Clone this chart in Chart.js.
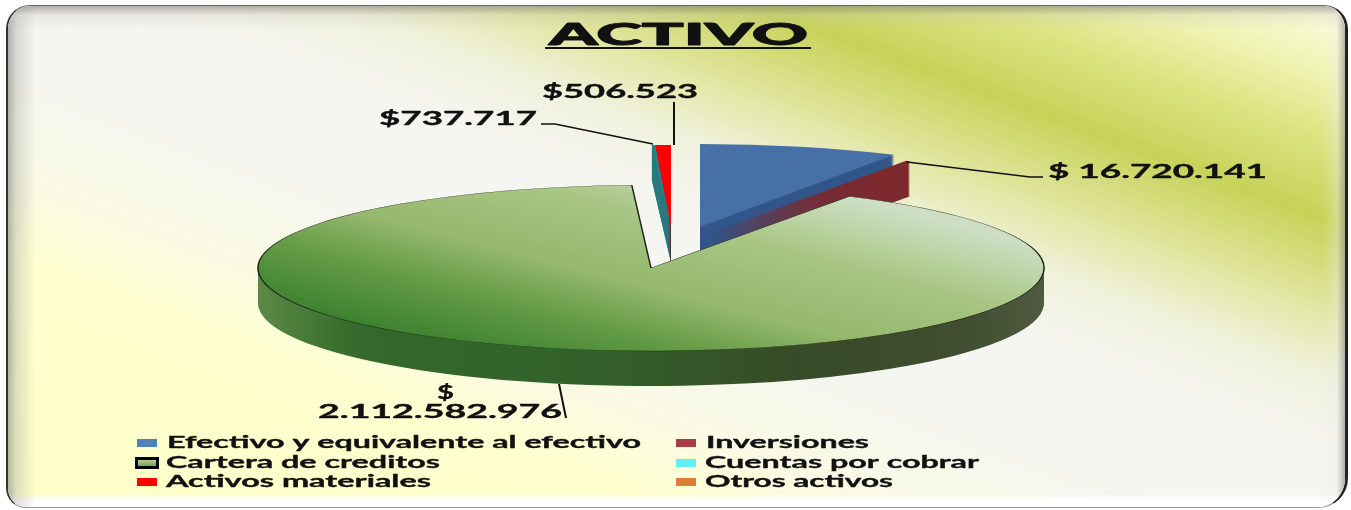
<!DOCTYPE html>
<html><head><meta charset="utf-8">
<style>
html,body{margin:0;padding:0;background:#fff;width:1351px;height:510px;overflow:hidden}
#frame{position:absolute;left:6px;top:5px;width:1342px;height:503px;box-sizing:border-box;border-radius:24px 24px 30px 20px;
 border:2px solid #4d4d4d;border-top:1.5px solid #666;border-left-color:#333;border-right:3px solid #222;border-bottom:1.5px solid #999;overflow:hidden;background:#f5f5f4}
#bg{position:absolute;inset:0;background:
 linear-gradient(to bottom,rgba(130,130,120,.6),rgba(190,190,180,.25) 9px,rgba(200,200,190,0) 24px),
 linear-gradient(to right,rgba(120,120,115,.55),rgba(170,170,165,.4) 8px,rgba(220,220,210,0) 28px),
 linear-gradient(to left,rgba(150,150,145,.7),rgba(235,235,230,.35) 8px,rgba(235,235,230,0) 22px),
 linear-gradient(to top,#fff 7px,rgba(255,255,255,0) 13px),
 linear-gradient(to top right,
  rgb(255,255,200) 0%,rgb(255,255,208) 25%,rgb(250,250,228) 33%,rgb(245,245,242) 45%,rgb(245,245,240) 55%,
  rgb(240,242,222) 62%,rgb(228,232,170) 68%,rgb(200,210,88) 78%,rgb(220,228,130) 86%,rgb(238,242,175) 92%,rgb(255,255,230) 100%)}
canvas{position:absolute;left:0;top:0}
</style></head>
<body>
<div id="frame"><div id="bg"></div></div>
<canvas id="c" width="1351" height="510"></canvas>
<script src="https://cdn.jsdelivr.net/npm/chart.js@4"></script>
<script>
const chartTitle = 'ACTIVO';
const categories = ['Efectivo y equivalente al efectivo','Inversiones','Cartera de creditos','Cuentas por cobrar','Activos materiales','Otros activos'];
const sliceShares = [8.22, 0.19, 90.81, 0.14, 0.64, 0];
const printedValues = ['$ 16.720.141', '$', '2.112.582.976', '$737.717', '$506.523'];
const faceColors = ['#4670a6','#7d2a2e','#8fb56d','#2f7f80','#ff0000','#dc7d3c'];
const wallColors = ['#33568a','#7d2a2e','#3a6a2a','#2a7a7e','#7a1010','#a05a28'];
const legendColors = ['#4f81bd','#aa3c41','#8fb56d','#64f0fa','#ff0000','#dc7d3c'];

const PIE_X = 651, PIE_Y = 268, PIE_R = 393, SQUASH = 83/393, DEPTH = 35;
const sliceShift = [[49,-41],[61,-35],[0,0],[20,-40],[20,-40],[20,-40]];
const drawOrder = [0,1,4,5,3,2];
const FONT = 'Lato, "Open Sans", sans-serif';

function project(ctx, arc, i, extra){
  ctx.translate(PIE_X + sliceShift[i][0], PIE_Y + sliceShift[i][1] + extra);
  ctx.scale(1, SQUASH);
  ctx.translate(-arc.x, -arc.y);
}
function paint(ctx, arc, i, extra, fill){
  const saved = arc.options;
  arc.options = Object.assign({}, saved, {backgroundColor: fill});
  ctx.save(); project(ctx, arc, i, extra); arc.draw(ctx); ctx.restore();
  arc.options = saved;
}
function stretched(ctx, text, x0, x1, baseline, size, weight, halo){
  ctx.save();
  ctx.font = (weight || 'bold') + ' ' + size + 'px ' + FONT;
  ctx.fillStyle = '#111';
  ctx.strokeStyle = '#111';
  ctx.lineWidth = halo === undefined ? 0.35 : halo;
  ctx.lineJoin = 'round';
  ctx.textBaseline = 'alphabetic'; ctx.textAlign = 'left';
  const w = ctx.measureText(text).width;
  ctx.translate(x0, baseline); ctx.scale((x1 - x0) / w, 1);
  ctx.fillText(text, 0, 0);
  if (ctx.lineWidth > 0) ctx.strokeText(text, 0, 0);
  ctx.restore();
}
function polyline(ctx, pts, w){
  ctx.save(); ctx.strokeStyle = '#111'; ctx.lineWidth = w; ctx.beginPath();
  pts.forEach((p,n)=> n ? ctx.lineTo(p[0],p[1]) : ctx.moveTo(p[0],p[1]));
  ctx.stroke(); ctx.restore();
}
const pie3d = {
  id:'pie3d',
  beforeDatasetsDraw(chart){
    const ctx = chart.ctx, arcs = chart.getDatasetMeta(0).data;
    drawOrder.forEach(i=>{
      const arc = arcs[i];
      if (!arc || arc.circumference === 0) return;
      let wall = wallColors[i], face = faceColors[i];
      if (i === 2){
        const g = ctx.createLinearGradient(arc.x - PIE_R, 0, arc.x + PIE_R, 0);
        g.addColorStop(0,'#5c8a45'); g.addColorStop(.05,'#4a7d3a'); g.addColorStop(.13,'#33692a'); g.addColorStop(.4,'#32622a');
        g.addColorStop(.68,'#364c28'); g.addColorStop(.9,'#414d30'); g.addColorStop(1,'#4f5a40');
        wall = g;
        const x0 = arc.x - PIE_R + 12, y0 = arc.y + 32/SQUASH;
        const f = ctx.createLinearGradient(x0, y0, x0 + 584, y0 - 479);
        f.addColorStop(0,'rgb(62,130,48)');
        f.addColorStop(.234,'rgb(100,155,70)');
        f.addColorStop(.434,'rgb(148,184,108)');
        f.addColorStop(.725,'rgb(168,197,132)');
        f.addColorStop(.85,'rgb(185,210,160)');
        f.addColorStop(1,'rgb(205,222,195)');
        face = f;
      }
      for (let d = DEPTH; d > 0; d -= 1) {
        const saved = arc.options;
        arc.options = Object.assign({}, saved, {borderWidth:0});
        paint(ctx, arc, i, d, wall);
        arc.options = saved;
      }
      paint(ctx, arc, i, 0, face);
    });
    return false;
  },
  afterDraw(chart){
    const ctx = chart.ctx;
    stretched(ctx, chartTitle, 549, 808, 45, 31, '900', 0);
    ctx.fillStyle = '#111'; ctx.fillRect(545, 47, 266, 2);
    polyline(ctx, [[674,102],[674,145]], 2);
    polyline(ctx, [[541,124],[555,124],[653,144]], 1.5);
    polyline(ctx, [[907,162],[1030,177],[1043,177]], 1.5);
    polyline(ctx, [[559,384],[566,418]], 2);
    stretched(ctx, printedValues[0], 1048, 1267, 178, 18);
    stretched(ctx, printedValues[1], 437, 454, 399, 19);
    stretched(ctx, printedValues[2], 318, 562, 418, 18);
    stretched(ctx, printedValues[3], 379, 537, 125, 18);
    stretched(ctx, printedValues[4], 542, 698, 98, 18);
    const rowsY = [447, 467, 486];
    const spans = [[167,641],[706,869],[166,440],[705,979],[166,431],[705,893]];
    const swatchX = [137,676];
    categories.forEach((name,i)=>{
      const col = i % 2, row = (i - col) / 2, y = rowsY[row];
      ctx.fillStyle = legendColors[i];
      if (i === 2){
        const g = ctx.createLinearGradient(0,y-9,0,y);
        g.addColorStop(0,'#c5d9b0'); g.addColorStop(1,'#6f9a48');
        ctx.fillStyle = g;
      }
      ctx.fillRect(swatchX[col], y-8, 20, 8);
      if (i === 2){ ctx.strokeStyle='#000'; ctx.lineWidth=3; ctx.strokeRect(swatchX[col]-.5, y-8.5, 21, 9); }
      stretched(ctx, name, spans[i][0], spans[i][1], y + 0.5, 17);
    });
  }
};
new Chart(document.getElementById('c'),{
  type:'pie',
  data:{labels:categories,datasets:[{
    data:sliceShares,
    backgroundColor:faceColors,
    borderWidth:categories.map((_,i)=> i===2 ? 1.5 : 0),
    borderColor:'#1d2418',
    radius:PIE_R
  }]},
  options:{
    responsive:false,animation:false,
    layout:{padding:0},
    plugins:{legend:{display:false},tooltip:{enabled:false},title:{display:false}}
  },
  plugins:[pie3d]
});
</script>
</body></html>
